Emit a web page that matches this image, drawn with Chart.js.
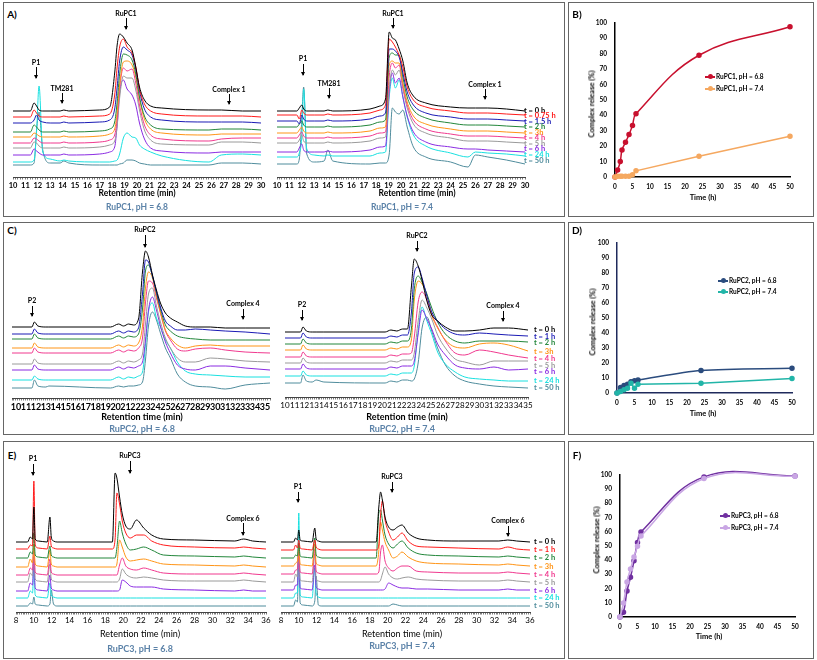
<!DOCTYPE html>
<html>
<head>
<meta charset="utf-8">
<script src="https://cdn.jsdelivr.net/npm/chart.js@4.4.0/dist/chart.umd.min.js"></script>
<style>
  body { margin: 0; background: #fff; }
  #fig { position: relative; width: 817px; height: 660px; overflow: hidden; background: #fff; font-family: Lato, "Open Sans", sans-serif; }
  .box { position: absolute; border: 1.5px solid #666; box-sizing: border-box; }
  .tx { position: absolute; white-space: nowrap; line-height: 1; color: #000; }
  .arw { position: absolute; width: 1px; background: #000; }
  .arw:after { content: ""; position: absolute; left: -2px; bottom: -1px; border-left: 2.5px solid transparent; border-right: 2.5px solid transparent; border-top: 4px solid #000; }
  .leg { position: absolute; height: 1.5px; }
  .leg i { position: absolute; left: 3px; top: -2px; width: 5px; height: 5px; border-radius: 50%; }
  canvas { position: absolute; }
</style>
</head>
<body>
<div id="fig"></div>
<script>
// ---------- chromatogram data (intensity above each trace's own baseline, a.u.) ----------
const colsA = ["#000000", "#ff1a1a", "#1a1ab4", "#22863a", "#ff9416", "#f0388e", "#9a9a9a", "#8a2be2", "#19e0e0", "#4f8c9c"];
const colsC = ["#000000", "#1a1ab4", "#22863a", "#ff9416", "#f0388e", "#9a9a9a", "#8a2be2", "#19e0e0", "#4f8c9c"];
const colsE = ["#000000", "#ff1a1a", "#22863a", "#ff9416", "#f0388e", "#9a9a9a", "#8a2be2", "#19e0e0", "#4f8c9c"];

const labelsA = ["t = 0 h", "t = 0.75 h", "t = 1.5 h", "t = 2 h", "t = 3h", "t = 4 h", "t = 5 h", "t = 6 h", "t = 24 h", "t = 50 h"];
const labelsCE = ["t = 0 h", "t = 1 h", "t = 2 h", "t = 3h", "t = 4 h", "t = 5 h", "t = 6 h", "t = 24 h", "t = 50 h"];

// A) RuPC1, pH 6.8
const rtA1 = [10, 11.4, 11.7, 11.9, 12.1, 12.4, 13, 13.8, 14.1, 14.5, 17, 17.8, 18.2, 18.4, 18.6, 18.9, 19.2, 19.6, 19.9, 20.2, 20.6, 21.1, 22, 25.8, 26.8, 28.5, 30];
const offA1 = [66, 60, 54, 45, 40, 34, 29, 22, 15, 12];
const sigA1 = [
  [0,0,8,5,1,0, 0,0,1,0, 1,4,38,66,77,74,68,61,44,24,11,5,3,1,1,0,0],
  [0,0,7,4,1,0, 0,0,1,0, 1,3,22,50,70,78,70,64,50,28,13,6,3,1,1,1,0],
  [0,0,3,8,3,1, 0,0,1,0, 1,3,14,36,62,76,73,68,54,32,14,6,3,1,1,1,0],
  [0,0,7,5,2,0, 0,0,1,0, 1,3,10,30,58,78,77,72,58,35,16,7,3,2,3,3,2],
  [0,0,4,3,1,0, 0,0,1,0, 1,3,8,25,52,75,76,72,60,38,18,8,4,2,3,3,3],
  [0,0,5,4,2,0, 0,0,1,0, 1,3,8,25,55,75,72,74,60,38,18,8,4,2,4,5,5],
  [0,0,6,5,2,0, 0,0,1,0, 1,3,7,22,50,72,70,70,58,38,18,8,4,3,6,6,5],
  [0,0,6,4,2,0, 0,0,1,0, 1,3,8,30,62,75,66,60,50,32,16,7,4,2,3,3,3],
  [0,0,2,30,76,10, 3,1,2,1, 0,0,1,2,8,24,29,25,24,17,13,10,6,0,7,8,7],
  [0,0,2,35,53,15, 2,2,4,2, 0,0,0,0,1,2,5,5,4,2,1,0,0,0,2,2,1]
];

// A) RuPC1, pH 7.4
const rtA2 = [10, 11.6, 11.8, 12.0, 12.15, 12.4, 13, 13.8, 14.1, 14.5, 17.5, 18.3, 18.75, 19.05, 19.3, 19.55, 19.85, 20.15, 20.5, 21, 22, 24, 25.4, 26, 27, 28.5, 30];
const offA2 = [66, 62, 56, 50, 44, 39, 34, 25, 20, 13];
const sigA2 = [
  [0,0,3,6,2,0, 0,0,1,0, 2,5,12,79,73,71,62,50,28,15,8,4,3,3,3,2,0],
  [0,0,-4,5,2,0, 0,0,1,0, 2,5,10,76,73,68,60,48,28,15,8,4,2,2,2,1,0],
  [0,0,-3,6,2,0, 0,0,1,0, 2,5,8,72,72,70,64,48,29,16,8,4,2,2,2,1,0],
  [0,0,3,6,2,0, 0,0,1,0, 2,5,7,70,74,72,72,50,30,17,9,4,2,2,2,1,0],
  [0,0,3,6,2,0, 0,0,1,0, 2,5,6,68,72,70,70,50,31,17,9,4,2,2,2,1,0],
  [0,0,3,6,2,0, 0,0,1,0, 2,5,6,62,75,70,73,52,33,18,9,4,2,2,2,1,0],
  [0,0,3,8,2,0, 0,0,1,0, 2,5,6,55,73,68,73,54,35,19,10,5,2,2,2,1,0],
  [0,0,4,8,2,0, 0,0,1,0, 2,5,6,60,79,69,74,55,36,20,10,5,3,3,2,1,0],
  [0,0,4,20,68,8, 2,1,2,1, 1,4,5,60,79,69,77,60,40,22,11,4,0,5,4,3,1],
  [0,0,5,45,77,10, 2,3,14,3, 0,1,1,10,56,52,50,54,37,17,7,2,-3,9,7,4,0]
];

// C) RuPC2, pH 6.8
const rtC1 = [9.6, 11.6, 11.85, 12.2, 13, 13.3, 19.5, 20.3, 20.8, 21.3, 21.8, 22.3, 22.7, 23.0, 23.3, 23.7, 24.1, 24.5, 25, 25.5, 26.2, 27, 28, 29.5, 31, 33, 35.5];
const offC1 = [71, 64, 59, 50, 45, 34, 28, 18, 10];
const sigC1 = [
  [0,0,5,1,0,0, 0,3,1,3,2,8, 55,76,70,52,37,24,14,9,5,1,0,0,-1,-1,-1],
  [0,0,5,1,0,0, 0,3,1,3,2,6, 40,74,72,58,42,27,13,8,4,4,5,4,3,2,0],
  [0,0,5,1,0,0, 0,3,1,3,2,5, 30,68,74,63,46,30,14,8,3,1,0,-1,-1,-1,-1],
  [0,0,5,1,0,0, 0,3,1,3,2,5, 22,60,76,70,52,36,18,10,3,0,2,3,2,2,2],
  [0,0,5,1,0,0, 0,3,1,3,2,5, 15,50,72,70,55,40,22,13,4,2,4,5,3,1,0],
  [0,0,5,1,0,0, 0,3,1,3,2,4, 10,40,70,76,58,42,26,16,6,2,2,6,5,3,2],
  [0,0,5,1,0,0, 0,3,1,3,2,4, 8,30,60,73,60,44,28,17,5,1,0,4,4,2,0],
  [0,0,4,1,0,0, 0,3,1,3,2,4, 8,35,68,77,62,53,40,32,18,9,6,5,4,3,3],
  [0,0,8,2,1,2, 0,2,1,2,2,3, 6,28,62,76,68,55,40,30,14,6,2,1,-1,3,5]
];

// C) RuPC2, pH 7.4
const rtC2 = [10, 11.6, 11.85, 12.2, 12.8, 13.2, 14, 20.3, 20.9, 21.5, 22.1, 22.6, 23.0, 23.3, 23.7, 24.1, 24.6, 25.1, 25.7, 26.5, 27.5, 28.5, 30, 31.5, 33, 35];
const offC2 = [65, 59, 53, 47, 40, 34, 28, 21, 14];
const sigC2 = [
  [0,0,5,1,0,0,0, 0,2,1,3,3,45,73,66,52,31,17,11,5,1,1,2,4,4,2],
  [0,0,5,1,0,0,0, 0,2,1,3,3,25,65,71,60,42,26,17,9,4,3,5,4,3,2],
  [0,0,5,1,0,0,0, 0,2,1,3,3,15,55,68,62,50,36,22,10,3,1,3,3,3,2],
  [0,0,5,1,0,0,0, 0,2,1,3,3,10,50,69,66,55,35,22,10,3,2,6,7,5,-1],
  [0,0,5,1,0,0,0, 0,2,1,3,3,4,20,55,65,57,42,30,16,4,2,7,5,2,-1],
  [0,0,5,1,0,0,0, 0,2,1,3,3,3,10,42,63,55,44,28,15,4,1,-2,2,2,2],
  [0,0,5,1,0,0,0, 0,2,1,3,3,3,8,35,59,50,40,25,14,4,1,0,2,-1,0],
  [0,0,5,1,0,0,0, 0,2,1,3,3,3,10,45,69,55,42,24,12,4,-1,-3,-4,-5,-5],
  [0,0,8,2,1,3,1, 0,2,1,3,3,2,4,20,55,66,52,35,18,7,2,-1,-3,-4,-5]
];

// E) RuPC3, pH 6.8
const rtE1 = [8, 9.3, 9.6, 9.85, 10.0, 10.15, 10.5, 11.5, 11.8, 11.95, 12.2, 12.6, 18.8, 19.1, 19.3, 19.6, 19.9, 20.3, 20.8, 21.5, 22.3, 23.2, 24.5, 28, 32.5, 33.5, 34.5, 36];
const offE1 = [70, 63, 54, 45, 37, 30, 21, 14, 6];
const sigE1 = [
  [0,0,5,3,35,3,1,0,25,5,1,0, 0,69,64,45,28,16,13,22,14,7,3,2,1,3,1,0],
  [0,0,4,3,68,4,1,0,13,3,1,0, 0,10,56,45,28,16,11,14,14,8,4,2,1,2,1,0],
  [0,0,6,4,25,3,1,0,12,3,1,0, 0,0,10,37,25,14,8,9,11,8,3,2,1,2,1,0],
  [0,0,8,4,23,3,1,0,17,3,1,0, 0,0,3,27,20,10,6,7,8,6,3,2,1,2,1,0],
  [0,0,7,5,28,3,1,0,16,3,1,0, 0,0,0,10,17,9,6,5,7,5,2,1,1,2,1,0],
  [0,0,9,6,35,3,1,0,18,3,1,0, 0,0,0,3,13,8,5,4,5,4,2,1,1,2,1,0],
  [0,0,8,6,34,3,1,0,16,3,1,0, 0,0,0,1,11,9,5,4,4,4,2,1,0,1,0,0],
  [0,0,7,5,32,3,1,0,15,3,1,0, 0,0,0,0,0,0,0,0,0,0,0,0,0,0,0,0],
  [0,0,3,2,9,2,1,0,2,16,2,0, 0,0,0,0,0,0,0,0,0,0,0,0,0,0,0,0]
];

// E) RuPC3, pH 7.4
const rtE2 = [8, 9.4, 9.65, 9.85, 10.0, 10.15, 10.5, 11.5, 11.8, 11.95, 12.2, 12.6, 18.7, 19.0, 19.2, 19.4, 19.7, 20.1, 20.6, 21.1, 21.6, 22.3, 23.2, 24.5, 28, 32.5, 33.5, 34.5, 36];
const offE2 = [70, 62, 54, 46, 38, 30, 22, 14, 6];
const sigE2 = [
  [0,0,4,2,12,2,1,0,14,3,1,0, 0,35,50,42,25,15,12,15,17,9,4,2,1,1,2,1,0],
  [0,0,5,2,10,2,1,0,10,3,1,0, 0,5,35,49,30,18,10,13,17,9,4,3,2,1,3,1,0],
  [0,0,3,2,15,2,1,0,20,3,1,0, 0,45,48,38,23,14,10,14,17,10,5,3,2,1,2,1,0],
  [0,0,3,5,20,2,1,0,22,3,1,0, 0,15,44,36,24,16,8,10,14,9,5,3,2,1,2,1,0],
  [0,0,4,5,25,2,1,0,25,3,1,0, 0,2,22,29,13,6,3,6,8,8,3,2,1,1,2,1,0],
  [0,0,8,5,30,2,1,0,28,3,1,0, 0,0,2,8,15,8,4,3,4,5,3,2,1,1,2,1,0],
  [0,0,5,5,35,2,1,0,25,3,1,0, 0,0,0,0,1,7,5,3,2,2,1,1,0,0,1,0,0],
  [0,0,5,5,85,3,1,0,30,5,1,0, 0,0,0,0,0,0,0,0,0,0,0,0,0,0,0,0,0],
  [0,0,6,4,65,3,1,0,5,30,1,0, 0,0,0,0,0,0,2,1,0,0,0,0,0,0,0,0,0]
];

// ---------- release profiles (%) ----------
const timeB = [0, 0.75, 1.5, 2, 3, 4, 5, 6, 24, 50];
const relB68 = [0, 4.5, 10, 17.5, 22.5, 27.5, 33.5, 41, 79, 97.5];
const relB74 = [0, 0.5, 0.5, 0.5, 0.5, 0.5, 1.5, 4, 13.5, 26.5];
const timeD = [0, 1, 2, 3, 4, 5, 6, 24, 50];
const relD68 = [0, 3.7, 5, 5.8, 7.5, 8.2, 8.6, 15, 16.5];
const relD74 = [0, 1, 2.2, 3.2, 6.5, 3.2, 5.8, 6.5, 9.7];
const timeF = [0, 1, 2, 3, 4, 5, 6, 24, 50];
const relF68 = [0, 3.4, 18.3, 27.9, 39.5, 52.5, 59.8, 98.6, 99.3];
const relF74 = [0, 9.8, 24.7, 33.8, 42.2, 49.8, 57, 97.5, 99];

Chart.defaults.font.family = "Lato, 'Open Sans', sans-serif";
Chart.defaults.color = "#000";
const fig = document.getElementById("fig");
const SUB = "#5b82a8";

function txt(s, x, y, o = {}) {
  const d = document.createElement("div");
  d.className = "tx";
  d.textContent = s;
  d.style.left = x + "px";
  d.style.top = y + "px";
  d.style.fontSize = (o.size || 7) + "px";
  d.style.fontWeight = o.bold === false ? 400 : 700;
  if (o.color) d.style.color = o.color;
  let tr = o.left ? "translate(0,-50%)" : "translate(-50%,-50%)";
  if (o.rot) tr += " rotate(-90deg)";
  d.style.transform = tr;
  fig.appendChild(d);
}

function arrow(x, y1, y2) {
  const a = document.createElement("div");
  a.className = "arw";
  a.style.left = (x - 0.5) + "px";
  a.style.top = y1 + "px";
  a.style.height = (y2 - y1) + "px";
  fig.appendChild(a);
}

function box(x, y, w, h) {
  const b = document.createElement("div");
  b.className = "box";
  Object.assign(b.style, { left: x + "px", top: y + "px", width: w + "px", height: h + "px" });
  fig.appendChild(b);
}

function legend(x, y, col, label) {
  const l = document.createElement("div");
  l.className = "leg";
  Object.assign(l.style, { left: x + "px", top: (y - 0.75) + "px", width: "10px", background: col });
  const dot = document.createElement("i");
  dot.style.background = col;
  l.appendChild(dot);
  fig.appendChild(l);
  txt(label, x + 11, y, { size: 6.5, left: true });
}

function makeCanvas(left, top, w, h) {
  const cv = document.createElement("canvas");
  cv.width = w; cv.height = h;
  Object.assign(cv.style, { left: left + "px", top: top + "px", width: w + "px", height: h + "px" });
  fig.appendChild(cv);
  return cv;
}

// chromatogram: area = plot rectangle in page pixels
function chrom(area, xmin, xmax, labelEvery, rt, offs, sig, cols, tickFont) {
  const W = area.r - area.l + 40, H = area.b - area.t + 4 + 20;
  const cv = makeCanvas(area.l - 20, area.t - 4, W, H);
  new Chart(cv, {
    type: "line",
    data: {
      datasets: sig.map((row, i) => ({
        data: rt.map((t, j) => ({ x: t, y: offs[i] + row[j] })),
        borderColor: cols[i],
        borderWidth: 1,
        pointRadius: 0,
        cubicInterpolationMode: "monotone",
        fill: false
      }))
    },
    options: {
      responsive: false,
      animation: false,
      events: [],
      layout: { padding: { left: 20, right: 20, top: 4, bottom: 0 } },
      plugins: { legend: { display: false }, tooltip: { enabled: false } },
      scales: {
        x: {
          type: "linear", min: xmin, max: xmax,
          afterFit: s => { s.height = 20; },
          grid: { display: true, drawOnChartArea: false, tickLength: 2.5, tickColor: "#444", tickWidth: 0.7 },
          border: { display: true, color: "#444", width: 1 },
          ticks: {
            stepSize: 0.2, autoSkip: false, maxRotation: 0, padding: 1.5,
            font: tickFont, color: "#000",
            callback: v => {
              const r = Math.round(v);
              return Math.abs(v - r) < 1e-6 && r % labelEvery === 0 ? String(r) : "";
            }
          }
        },
        y: { display: false, min: 0, max: area.b - area.t }
      }
    }
  });
}

function release(area, times, s1, s2, c1, c2, axisCol, ten1, ten2) {
  const padT = 8, padR = 12, yW = 30, xH = 22;
  const W = area.r - area.l + yW + padR, H = area.b - area.t + padT + xH;
  const cv = makeCanvas(area.l - yW, area.t - padT, W, H);
  const tf = { size: 6.5, weight: "bold" };
  const ds = (vals, col, ten) => ({
    data: times.map((t, i) => ({ x: t, y: vals[i] })),
    borderColor: col, backgroundColor: col, pointBackgroundColor: col, pointBorderColor: col,
    borderWidth: 1.5, pointRadius: 2, tension: ten, clip: false, fill: false
  });
  new Chart(cv, {
    type: "line",
    data: { datasets: [ds(s2, c2, ten2), ds(s1, c1, ten1)] },
    options: {
      responsive: false,
      animation: false,
      events: [],
      layout: { padding: { left: 0, right: padR, top: padT, bottom: 0 } },
      plugins: { legend: { display: false }, tooltip: { enabled: false } },
      elements: { line: { capBezierPoints: false } },
      scales: {
        x: {
          type: "linear", min: 0, max: 50,
          afterFit: s => { s.height = xH; },
          grid: { display: false, drawTicks: false },
          border: { display: true, color: axisCol, width: 1.5 },
          ticks: { stepSize: 5, padding: 6, font: tf, color: "#000", maxRotation: 0 }
        },
        y: {
          min: 0, max: 100,
          afterFit: s => { s.width = yW; },
          grid: { display: false, drawTicks: false },
          border: { display: true, color: axisCol, width: 1.5 },
          ticks: { stepSize: 10, padding: 8, font: tf, color: "#000" }
        }
      }
    }
  });
}

// ---------- frames ----------
box(3, 2, 562, 215); box(568, 2, 246, 215);
box(3, 222, 562, 213); box(568, 222, 246, 213);
box(3, 441, 562, 218); box(568, 441, 246, 218);

// ---------- panel A ----------
txt("A)", 12, 14, { size: 10 });
chrom({ l: 13, r: 261, t: 20, b: 177 }, 10, 30, 1, rtA1, offA1, sigA1, colsA, { size: 7.5, weight: "bold" });
chrom({ l: 277, r: 525, t: 20, b: 177 }, 10, 30, 1, rtA2, offA2, sigA2, colsA, { size: 7.5, weight: "bold" });
txt("RuPC1", 126, 13); arrow(126, 18, 29);
txt("P1", 36, 62); arrow(36, 67, 78);
txt("TM281", 62, 88); arrow(62, 93, 103);
txt("Complex 1", 229, 89); arrow(229, 94, 104);
txt("RuPC1", 393, 13); arrow(393, 18, 28);
txt("P1", 303, 58); arrow(303, 64, 75);
txt("TM281", 329, 83); arrow(329, 88, 98);
txt("Complex 1", 485, 84); arrow(485, 89, 99);
txt("Retention time (min)", 137, 193, { size: 8.5 });
txt("Retention time (min)", 417, 193, { size: 8.5 });
txt("RuPC1, pH = 6.8", 137, 207, { size: 8.5, color: SUB });
txt("RuPC1, pH = 7.4", 402, 207, { size: 8.5, color: SUB });
const yA = [111, 116, 122, 127, 133, 138, 144, 149, 155, 161];
labelsA.forEach((s, i) => txt(s, 524, yA[i], { size: 7.5, left: true, color: colsA[i] }));

// ---------- panel B ----------
txt("B)", 577, 14, { size: 10 });
release({ l: 615, r: 790, t: 19, b: 177 }, timeB, relB68, relB74, "#c8102e", "#f5a860", "#000", 0.4, 0);
txt("Complex release (%)", 592, 104, { size: 7.5, rot: true });
txt("Time (h)", 703, 198, { size: 7.5 });
legend(705, 77, "#c8102e", "RuPC1, pH = 6.8");
legend(705, 89, "#f5a860", "RuPC1, pH = 7.4");

// ---------- panel C ----------
txt("C)", 12, 230, { size: 10 });
chrom({ l: 12, r: 270, t: 240, b: 398 }, 9.6, 35.5, 1, rtC1, offC1, sigC1, colsC, { size: 9, weight: "bold" });
chrom({ l: 285, r: 528, t: 240, b: 397 }, 10, 35, 1, rtC2, offC2, sigC2, colsC, { size: 8 });
txt("RuPC2", 145, 229); arrow(145, 235, 247);
txt("P2", 32, 300); arrow(32, 306, 316);
txt("Complex 4", 243, 303); arrow(243, 309, 319);
txt("RuPC2", 417, 235); arrow(417, 241, 251);
txt("P2", 302, 304); arrow(302, 310, 320);
txt("Complex 4", 503, 305); arrow(503, 311, 321);
txt("Retention time (min)", 142, 416, { size: 9 });
txt("Retention time (min)", 407, 416, { size: 9 });
txt("RuPC2, pH = 6.8", 142, 428, { size: 9, color: SUB });
txt("RuPC2, pH = 7.4", 402, 428, { size: 9, color: SUB });
const yC = [330, 337, 343, 352, 359, 366, 372, 381, 388];
labelsCE.forEach((s, i) => txt(s, 534, yC[i], { size: 7.5, left: true, color: colsC[i] }));

// ---------- panel D ----------
txt("D)", 577, 230, { size: 10 });
release({ l: 617, r: 792, t: 239, b: 393 }, timeD, relD68, relD74, "#2b4c7e", "#22b5a8", "#1f2a5c", 0.3, 0);
txt("Complex release (%)", 593, 322, { size: 7.5, rot: true });
txt("Time (h)", 703, 414, { size: 7.5 });
legend(718, 281, "#2b4c7e", "RuPC2, pH = 6.8");
legend(718, 292, "#22b5a8", "RuPC2, pH = 7.4");

// ---------- panel E ----------
txt("E)", 12, 455, { size: 10 });
chrom({ l: 16, r: 266, t: 462, b: 612 }, 8, 36, 2, rtE1, offE1, sigE1, colsE, { size: 8 });
chrom({ l: 281, r: 530, t: 462, b: 612 }, 8, 36, 2, rtE2, offE2, sigE2, colsE, { size: 8 });
txt("P1", 33, 458); arrow(33, 464, 475);
txt("RuPC3", 130, 455); arrow(130, 461, 473);
txt("Complex 6", 243, 518); arrow(243, 523, 535);
txt("P1", 298, 486); arrow(298, 492, 502);
txt("RuPC3", 392, 476); arrow(392, 482, 492);
txt("Complex 6", 508, 520); arrow(508, 526, 536);
txt("Retention time (min)", 140, 633, { size: 9, bold: false });
txt("Retention time (min)", 402, 633, { size: 9, bold: false });
txt("RuPC3, pH = 6.8", 140, 648, { size: 9, color: SUB });
txt("RuPC3, pH = 7.4", 402, 645, { size: 9, color: SUB });
const yE = [542, 550, 558, 567, 575, 583, 591, 598, 606];
labelsCE.forEach((s, i) => txt(s, 534, yE[i], { size: 7.5, left: true, color: colsE[i] }));

// ---------- panel F ----------
txt("F)", 577, 455, { size: 10 });
release({ l: 620, r: 795, t: 471, b: 617 }, timeF, relF68, relF74, "#7030a0", "#c9a6e4", "#000", 0.4, 0.4);
txt("Complex release (%)", 597, 540, { size: 7.5, rot: true });
txt("Time (h)", 709, 637, { size: 7.5 });
legend(720, 516, "#7030a0", "RuPC3, pH = 6.8");
legend(720, 528, "#c9a6e4", "RuPC3, pH = 7.4");
</script>
</body>
</html>
